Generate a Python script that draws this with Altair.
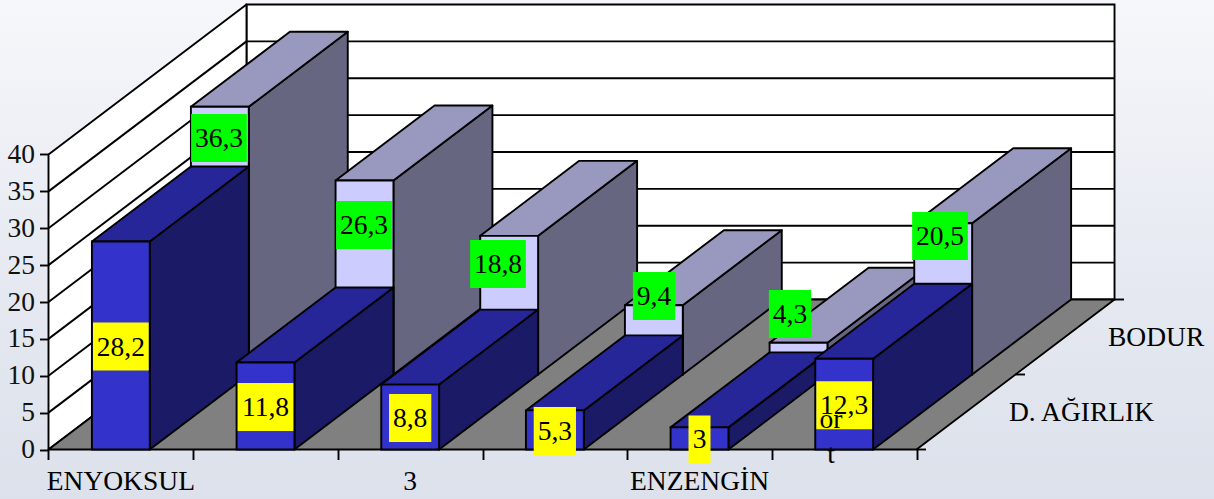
import altair as alt
import pandas as pd

# Series values per income group, front row and back row
GROUPS = ["ENYOKSUL", "2", "3", "4", "ENZENGİN", "ort"]
D_AGIRLIK = [28.2, 11.8, 8.8, 5.3, 3, 12.3]
BODUR = [36.3, 26.3, 18.8, 9.4, 4.3, 20.5]
AXIS_TICKS = [0, 5, 10, 15, 20, 25, 30, 35, 40]

# Oblique projection of the box: one category step and one axis unit in pixels
W, H = 1214, 499
ORIGIN_X, ORIGIN_Y = 48.5, 449.5
STEP_PX, UNIT_PX = 144.67, 7.375
DEPTH_DX_PX, DEPTH_DY_PX = 198.0, 150.0
DEPTH_X = DEPTH_DX_PX / STEP_PX
DEPTH_V = DEPTH_DY_PX / UNIT_PX
BAR_LEFT, BAR_WIDTH = 0.3, 0.4
TOP_VALUE = 40

SERIF = "Liberation Serif"
FONT_PX = 27.5
LINE = 1.9


def px_x(p):
    return (p - ORIGIN_X) / STEP_PX


def px_y(p):
    return (ORIGIN_Y - p) / UNIT_PX


X_SCALE = alt.Scale(domain=[px_x(0), px_x(W)], nice=False, zero=False)
Y_SCALE = alt.Scale(domain=[px_y(H), px_y(0)], nice=False, zero=False)

# Every layer shares these two axis definitions so that they merge into one pair
X_AXIS = alt.Axis(
    values=list(range(7)), offset=-(H - ORIGIN_Y), tickSize=10, tickWidth=LINE,
    tickColor="black", labels=False, domain=False, grid=False, zindex=1,
)
Y_AXIS = alt.Axis(
    values=AXIS_TICKS, offset=-ORIGIN_X, tickSize=9, tickWidth=LINE, tickColor="black",
    labelFont=SERIF, labelFontSize=FONT_PX, labelColor="#111111", labelPadding=5,
    labelOverlap=False, labelBound=False, labelFlush=False,
    domain=False, grid=False, zindex=1, format="d",
)


def pos():
    return dict(
        x=alt.X("x:Q", scale=X_SCALE, title=None, axis=X_AXIS),
        y=alt.Y("y:Q", scale=Y_SCALE, title=None, axis=Y_AXIS),
    )


def quad_vertical(x0, x1, lo0, hi0, lo1, hi1, fill):
    """Parallelogram with vertical ends (side faces and the side wall)."""
    d = pd.DataFrame({"x": [x0, x1], "y": [lo0, lo1], "y2": [hi0, hi1]})
    return alt.Chart(d).mark_area(
        fill=fill, stroke="black", strokeWidth=LINE, strokeJoin="round"
    ).encode(**pos(), y2="y2:Q")


def quad_horizontal(y0, y1, l0, r0, l1, r1, fill):
    """Parallelogram with horizontal ends (bar tops and the floor)."""
    d = pd.DataFrame({"y": [y0, y1], "x": [l0, l1], "x2": [r0, r1]})
    return alt.Chart(d).mark_area(
        orient="horizontal", fill=fill, stroke="black", strokeWidth=LINE, strokeJoin="round"
    ).encode(**pos(), x2="x2:Q")


def rect(x0, x1, y0, y1, fill, stroke=None):
    d = pd.DataFrame({"x": [x0], "x2": [x1], "y": [y0], "y2": [y1]})
    kw = dict(fill=fill, strokeWidth=LINE)
    if stroke:
        kw["stroke"] = stroke
    return alt.Chart(d).mark_rect(**kw).encode(**pos(), x2="x2:Q", y2="y2:Q")


def segments(rows, width=LINE):
    d = pd.DataFrame(rows, columns=["x", "y", "x2", "y2"])
    return alt.Chart(d).mark_rule(color="black", strokeWidth=width).encode(
        **pos(), x2="x2:Q", y2="y2:Q"
    )


def bar(i, value, d0, d1, front, top, side):
    """Draw one box from depth d0 to d1 with its three visible faces."""
    l = i + BAR_LEFT
    r = l + BAR_WIDTH
    lx0, rx0 = l + d0 * DEPTH_X, r + d0 * DEPTH_X
    rx1, lx1 = r + d1 * DEPTH_X, l + d1 * DEPTH_X
    b0, b1 = d0 * DEPTH_V, d1 * DEPTH_V
    return [
        quad_vertical(rx0, rx1, b0, b0 + value, b1, b1 + value, side),
        quad_horizontal(b0 + value, b1 + value, lx0, rx0, lx1, rx1, top),
        rect(lx0, rx0, b0, b0 + value, front, "black"),
    ]


def text_layer(rows, align="center"):
    d = pd.DataFrame(rows, columns=["x", "y", "label"])
    return alt.Chart(d).mark_text(
        font=SERIF, fontSize=FONT_PX, color="black", align=align, baseline="alphabetic"
    ).encode(**pos(), text="label:N")


def label_text(v):
    return str(v).replace(".", ",")


def value_label(cx_px, cy_px, v, fill):
    """Coloured plate with the value on it, centred on a projected point."""
    s = label_text(v)
    digits = sum(c.isdigit() for c in s)
    w = digits * 13.5 + (6.75 if "," in s else 0) + 8.5
    plate = rect(px_x(cx_px - w / 2), px_x(cx_px + w / 2), px_y(cy_px + 24), px_y(cy_px - 24), fill)
    txt = text_layer([[px_x(cx_px), px_y(cy_px + 9), s]])
    return [plate, txt]


layers = []

# Page background
bg = pd.DataFrame({"x": [px_x(0)], "x2": [px_x(W)], "y": [px_y(H)], "y2": [px_y(0)]})
layers.append(
    alt.Chart(bg)
    .mark_rect(
        fill=alt.Gradient(
            gradient="linear",
            stops=[
                alt.GradientStop(color="#F6F7FB", offset=0),
                alt.GradientStop(color="#E6E9F1", offset=0.55),
                alt.GradientStop(color="#DCE1EB", offset=1),
            ],
            x1=0, x2=0, y1=0, y2=1,
        )
    )
    .encode(**pos(), x2="x2:Q", y2="y2:Q")
)

# Back wall, side wall and floor
cats = len(GROUPS)
layers.append(rect(DEPTH_X, cats + DEPTH_X, DEPTH_V, DEPTH_V + TOP_VALUE, "white", "black"))
layers.append(quad_vertical(0, DEPTH_X, 0, TOP_VALUE, DEPTH_V, DEPTH_V + TOP_VALUE, "white"))
layers.append(quad_horizontal(0, DEPTH_V, 0, cats, DEPTH_X, cats + DEPTH_X, "#808080"))

# Gridlines running along the side wall and across the back wall
grid = []
for t in AXIS_TICKS[1:-1]:
    grid.append([0, t, DEPTH_X, t + DEPTH_V])
    grid.append([DEPTH_X, t + DEPTH_V, cats + DEPTH_X, t + DEPTH_V])
layers.append(segments(grid))

# Depth-axis ticks on the right edge of the floor
tick_len = 9.5 / STEP_PX
layers.append(segments([
    [cats + k * DEPTH_X, k * DEPTH_V, cats + k * DEPTH_X + tick_len, k * DEPTH_V]
    for k in (0, 0.5, 1)
]))

# Back row first, then the front row, each from left to right
for i, v in enumerate(BODUR):
    layers += bar(i, v, 0.5, 1.0, "#CCCCFF", "#9999BF", "#666680")
for i, v in enumerate(D_AGIRLIK):
    layers += bar(i, v, 0.0, 0.5, "#3333CC", "#262699", "#1A1A66")

# Value plates
BACK_LABEL_X = [219, 364, 498, 654, 790, 940]
BACK_LABEL_Y = [138, 225, 264, 296, 314, 236]
for cx, cy, v in zip(BACK_LABEL_X, BACK_LABEL_Y, BODUR):
    layers += value_label(cx, cy, v, "#00FF00")
for i, v in enumerate(D_AGIRLIK):
    cx = ORIGIN_X + (i + 0.5) * STEP_PX
    cy = ORIGIN_Y - v * UNIT_PX / 2 + 1
    layers += value_label(cx, cy, v, "#FFFF00")

# Category and depth captions
layers.append(text_layer([
    [px_x(ORIGIN_X + 0.5 * STEP_PX), px_y(490), GROUPS[0]],
    [px_x(ORIGIN_X + 2.5 * STEP_PX), px_y(490), "3"],
    [px_x(ORIGIN_X + 4.5 * STEP_PX), px_y(490), GROUPS[4]],
    [px_x(831), px_y(428), "or"],
    [px_x(831), px_y(463), "t"],
]))
layers.append(text_layer([
    [px_x(1108), px_y(345.5), "BODUR"],
    [px_x(1009), px_y(421), "D. AĞIRLIK"],
], align="left"))

chart = (
    alt.layer(*layers)
    .properties(width=W, height=H, padding=0, autosize=alt.AutoSizeParams(type="none"))
    .configure_view(stroke=None)
    .configure(background="#E6E9F1")
)

chart.save("out.html", embed_options={"renderer": "svg", "actions": False})
